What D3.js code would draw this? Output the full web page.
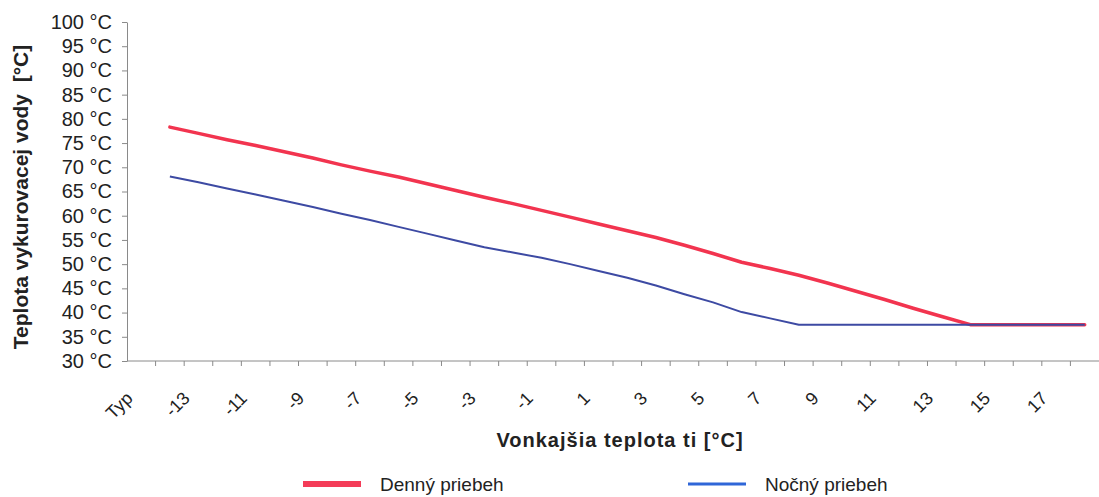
<!DOCTYPE html>
<html>
<head>
<meta charset="utf-8">
<script src="https://cdn.jsdelivr.net/npm/d3@7"></script>
<style>
  html, body { margin: 0; padding: 0; background: #fff; }
  svg { display: block; font-family: "Liberation Sans", Arial, sans-serif; }
  .axis path, .axis line { stroke: #8a8a8a; }
  .tick text { fill: #222; }
</style>
</head>
<body>
<svg id="chart" width="1099" height="497"></svg>
<script>
// Categories on the x axis (outdoor temperature), Typ first.
const categories = [ 'Typ', '-14', '-13', '-12', '-11', '-10', '-9', '-8', '-7', '-6', '-5', '-4', '-3', '-2', '-1',
                     '0', '1', '2', '3', '4', '5', '6', '7', '8', '9', '10', '11', '12', '13', '14', '15', '16', '17', '18' ];

// Denný priebeh (day curve), °C
const dayValues   = [ null, 78.3, 77.0, 75.7, 74.5, 73.2, 71.9, 70.5, 69.2, 68.0, 66.6, 65.2, 63.8, 62.5, 61.1,
                      59.7, 58.3, 56.9, 55.5, 53.9, 52.2, 50.4, 49.1, 47.7, 46.1, 44.4, 42.7, 40.9, 39.2, 37.5,
                      37.5, 37.5, 37.5, 37.5 ];

// Nočný priebeh (night curve), °C
const nightValues = [ null, 68.1, 66.9, 65.6, 64.4, 63.1, 61.8, 60.4, 59.1, 57.7, 56.3, 54.9, 53.5, 52.4, 51.3,
                      50.0, 48.6, 47.2, 45.6, 43.8, 42.1, 40.1, 38.8, 37.5, 37.5, 37.5, 37.5, 37.5, 37.5, 37.5,
                      37.5, 37.5, 37.5, 37.5 ];

// Y axis ticks
const yTicks = [ 30, 35, 40, 45, 50, 55, 60, 65, 70, 75, 80, 85, 90, 95, 100 ];

const plot = { left: 127, right: 1099, top: 22, bottom: 361 };

const svg = d3.select( '#chart' );

const x = d3.scaleBand()
  .domain( categories )
  .range( [ plot.left, plot.right ] )
  .padding( 0 );
const cx = c => x( c ) + x.bandwidth() / 2;

const y = d3.scaleLinear()
  .domain( [ 30, 100 ] )
  .range( [ plot.bottom, plot.top ] );

// Y axis
const yAxis = d3.axisLeft( y )
  .tickValues( yTicks )
  .tickSize( 5 )
  .tickSizeOuter( 0 )
  .tickPadding( 10 )
  .tickFormat( d => `${d} °C` );
svg.append( 'g' )
  .attr( 'class', 'axis' )
  .attr( 'transform', `translate(${plot.left},0)` )
  .call( yAxis )
  .selectAll( 'text' )
    .style( 'font-size', '20px' );

// X axis: base line, ticks on category boundaries
const xAxisG = svg.append( 'g' ).attr( 'class', 'axis' );
xAxisG.append( 'line' )
  .attr( 'x1', plot.left ).attr( 'x2', plot.right )
  .attr( 'y1', plot.bottom ).attr( 'y2', plot.bottom );
xAxisG.selectAll( 'line.tk' )
  .data( categories.slice( 1 ) )
  .enter().append( 'line' )
    .attr( 'class', 'tk' )
    .attr( 'x1', d => x( d ) ).attr( 'x2', d => x( d ) )
    .attr( 'y1', plot.bottom ).attr( 'y2', plot.bottom + 5 );

// Every other category label, rotated
svg.append( 'g' )
  .selectAll( 'text' )
  .data( categories.filter( ( d, i ) => i % 2 === 0 ) )
  .enter().append( 'text' )
    .attr( 'transform', d => `translate(${cx( d ) - 12},395) rotate(-45)` )
    .attr( 'text-anchor', 'end' )
    .attr( 'dy', '0.35em' )
    .style( 'font-size', '18px' )
    .attr( 'fill', '#222' )
    .text( d => d );

// Lines
const line = values => d3.line()
  .defined( d => d != null )
  .x( ( d, i ) => cx( categories[ i ] ) )
  .y( d => y( d ) )( values );

svg.append( 'path' )
  .attr( 'd', line( dayValues ) )
  .attr( 'fill', 'none' )
  .attr( 'stroke', '#f2344f' )
  .attr( 'stroke-width', 3.5 )
  .attr( 'stroke-linejoin', 'round' )
  .attr( 'stroke-linecap', 'round' );

svg.append( 'path' )
  .attr( 'd', line( nightValues ) )
  .attr( 'fill', 'none' )
  .attr( 'stroke', '#3d4aa3' )
  .attr( 'stroke-width', 2 )
  .attr( 'stroke-linejoin', 'round' );

// Axis titles
svg.append( 'text' )
  .attr( 'transform', 'translate(28,197) rotate(-90)' )
  .attr( 'text-anchor', 'middle' )
  .style( 'font-size', '21px' )
  .style( 'font-weight', 'bold' )
  .style( 'white-space', 'pre' )
  .attr( 'fill', '#222' )
  .text( 'Teplota vykurovacej vody  [°C]' );

svg.append( 'text' )
  .attr( 'x', 620 )
  .attr( 'y', 447 )
  .attr( 'text-anchor', 'middle' )
  .style( 'font-size', '20px' )
  .style( 'font-weight', 'bold' )
  .style( 'letter-spacing', '1px' )
  .attr( 'fill', '#222' )
  .text( 'Vonkajšia teplota ti [°C]' );

// Legend
const legend = [
  { name: 'Denný priebeh', color: '#f43c58', width: 6, x: 303 },
  { name: 'Nočný priebeh', color: '#2f66d8', width: 3, x: 688 }
];
const lg = svg.append( 'g' ).selectAll( 'g' )
  .data( legend )
  .enter().append( 'g' )
    .attr( 'transform', d => `translate(${d.x},484)` );
lg.append( 'line' )
  .attr( 'x1', 0 ).attr( 'x2', 58 )
  .attr( 'stroke', d => d.color )
  .attr( 'stroke-width', d => d.width );
lg.append( 'text' )
  .attr( 'x', 77 )
  .attr( 'dy', '0.35em' )
  .style( 'font-size', '19px' )
  .attr( 'fill', '#222' )
  .text( d => d.name );
</script>
</body>
</html>
